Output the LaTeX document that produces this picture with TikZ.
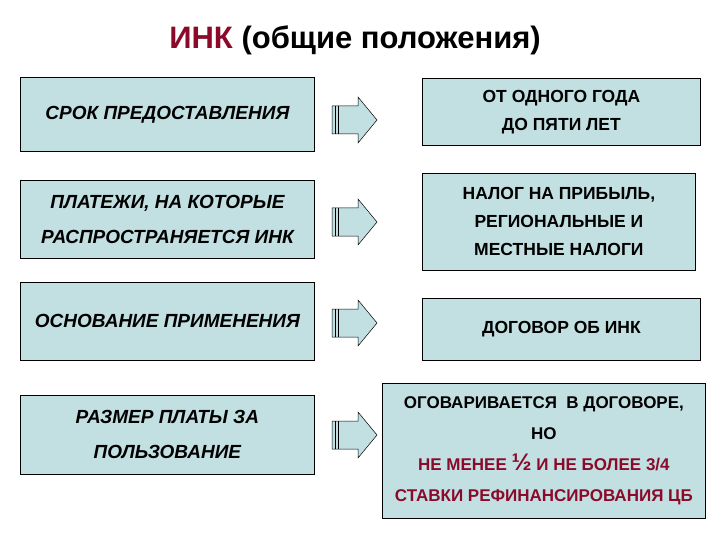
\documentclass[tikz,border=0pt]{standalone}
\usepackage{fontspec}
\setmainfont{Liberation Sans}
\begin{document}
\begin{tikzpicture}[x=1pt,y=-1pt,
 box/.style={draw=black,fill=boxc,line width=0.8pt,align=center,anchor=north west,inner sep=0pt,font=\bfseries\fontsize{17.5}{28}\selectfont},
 lbox/.style={box,font=\bfseries\itshape\fontsize{19}{35}\selectfont},
 arr/.style={draw=black,fill=boxc,line width=0.5pt}]
\definecolor{boxc}{HTML}{C2DFE2}
\definecolor{dred}{HTML}{8B0A2A}
\useasboundingbox (0,0) rectangle (720,540);
\node[font=\bfseries\fontsize{31}{34}\selectfont] (title) at (355,40) {\textcolor{dred}{ИНК} (общие положения)};
\node[lbox,minimum width=294,minimum height=74] (l1) at (20,77) {СРОК ПРЕДОСТАВЛЕНИЯ};
\node[lbox,minimum width=294,minimum height=78] (l2) at (20,180) {ПЛАТЕЖИ, НА КОТОРЫЕ\\РАСПРОСТРАНЯЕТСЯ ИНК};
\node[lbox,minimum width=294,minimum height=78] (l3) at (20,282) {ОСНОВАНИЕ ПРИМЕНЕНИЯ};
\node[lbox,minimum width=294,minimum height=79] (l4) at (20,395) {РАЗМЕР ПЛАТЫ ЗА\\ПОЛЬЗОВАНИЕ};
\node[box,minimum width=278,minimum height=67] (r1) at (422,78) {ОТ ОДНОГО ГОДА\\ДО ПЯТИ ЛЕТ};
\node[box,minimum width=273,minimum height=97] (r2) at (422,173) {НАЛОГ НА ПРИБЫЛЬ,\\РЕГИОНАЛЬНЫЕ И\\МЕСТНЫЕ НАЛОГИ};
\node[box,minimum width=278,minimum height=62] (r3) at (422,298) {ДОГОВОР ОБ ИНК};
\node[box,minimum width=323,minimum height=135,font=\bfseries\fontsize{17}{31}\selectfont] (r4) at (382,383) {ОГОВАРИВАЕТСЯ \ В ДОГОВОРЕ,\\НО\\\textcolor{dred}{НЕ МЕНЕЕ {\fontsize{24}{24}\selectfont ½} И НЕ БОЛЕЕ 3/4}\\\textcolor{dred}{СТАВКИ РЕФИНАНСИРОВАНИЯ ЦБ}};
\foreach \y/\n in {120/1,222/2,323/3,435/4}{
 \coordinate (a\n) at (332,\y);
 \draw[arr] (a\n) ++(0,-14) -- ++(26,0) -- ++(0,-9) -- ++(19,23) -- ++(-19,23) -- ++(0,-9) -- ++(-26,0) -- cycle;
 \draw (a\n) ++(3,-14) -- ++(0,28) ++(3,-28) -- ++(0,28);
}
\end{tikzpicture}
\end{document}
